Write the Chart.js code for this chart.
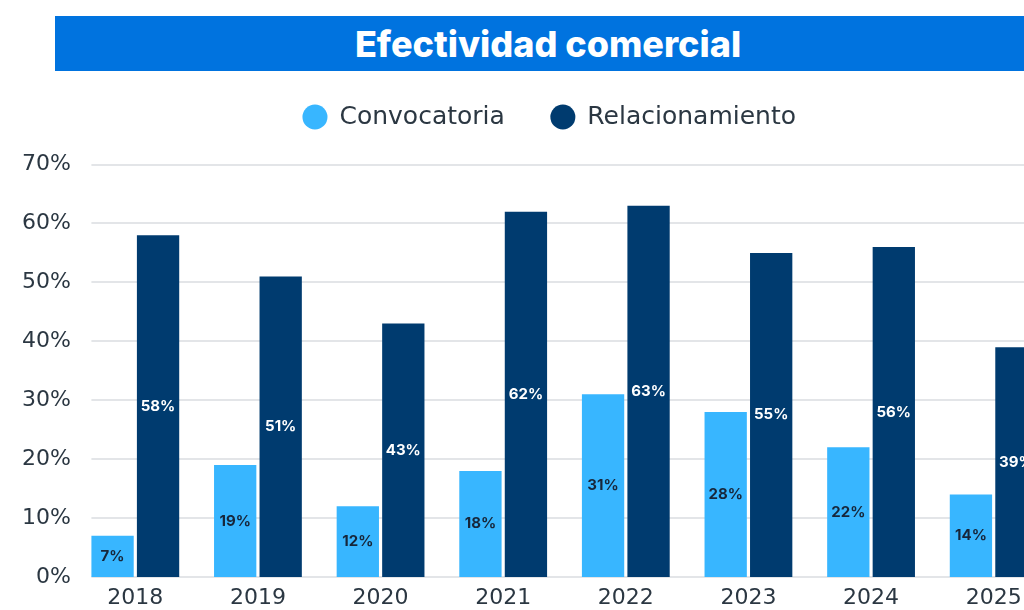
<!DOCTYPE html>
<html>
<head>
<meta charset="utf-8">
<script src="https://cdn.jsdelivr.net/npm/chart.js@4.4.1/dist/chart.umd.min.js"></script>
<style>
  html, body { margin: 0; padding: 0; background: #fff; overflow: hidden; }
  #wrap { position: relative; width: 1130px; height: 620px; }
  #title {
    position: absolute; left: 55px; top: 16px; width: 986px; height: 55px;
    background: #0073df; color: #fff; text-align: center;
    font: 800 36px "Inter", sans-serif; line-height: 56px; z-index: 2;
  }
  #chartBox { position: absolute; left: 0; top: 0; width: 1130px; height: 620px; }
</style>
</head>
<body>
<div id="wrap">
  <div id="title">Efectividad comercial</div>
  <div id="chartBox"><canvas id="chart"></canvas></div>
</div>
<script>
const years = ["2018", "2019", "2020", "2021", "2022", "2023", "2024", "2025"];
const convocatoria = [7, 19, 12, 18, 31, 28, 22, 14];
const relacionamiento = [58, 51, 43, 62, 63, 55, 56, 39];
const yTicks = [0, 10, 20, 30, 40, 50, 60, 70];

const textColor = "#2b3742";
const font = "DejaVu Sans";

// extra room under the legend, and legend nudged right a bit
const legendTweaks = {
  id: "legendTweaks",
  beforeInit(chart) {
    const fit = chart.legend.fit;
    chart.legend.fit = function () {
      fit.call(this);
      this.height += 25;
    };
  },
  afterLayout(chart) {
    chart.legend.left += 22;
    chart.legend.right += 22;
  }
};

// value labels in the middle of every bar
const barLabels = {
  id: "barLabels",
  afterDatasetsDraw(chart) {
    const ctx = chart.ctx;
    ctx.save();
    ctx.font = "700 15px Inter, sans-serif";
    ctx.textAlign = "center";
    ctx.textBaseline = "middle";
    chart.data.datasets.forEach((ds, i) => {
      chart.getDatasetMeta(i).data.forEach((bar, j) => {
        ctx.fillStyle = i === 0 ? "#17263a" : "#ffffff";
        ctx.fillText(ds.data[j] + "%", bar.x, (bar.y + bar.base) / 2);
      });
    });
    ctx.restore();
  }
};

// horizontal grid lines starting at the first bar
const gridLines = {
  id: "gridLines",
  beforeDatasetsDraw(chart) {
    const ctx = chart.ctx;
    const y = chart.scales.y;
    const area = chart.chartArea;
    const first = chart.getDatasetMeta(0).data[0];
    const x0 = first.x - first.width / 2;
    ctx.save();
    ctx.strokeStyle = "#e3e5e8";
    ctx.lineWidth = 2;
    yTicks.forEach((t) => {
      const py = Math.round(y.getPixelForValue(t));
      ctx.beginPath();
      ctx.moveTo(x0, py);
      ctx.lineTo(area.right + 80, py);
      ctx.stroke();
    });
    ctx.restore();
  }
};

new Chart(document.getElementById("chart"), {
  type: "bar",
  data: {
    labels: years,
    datasets: [
      {
        label: "Convocatoria",
        data: convocatoria,
        backgroundColor: "#38b6ff",
        categoryPercentage: 0.742,
        barPercentage: 0.93
      },
      {
        label: "Relacionamiento",
        data: relacionamiento,
        backgroundColor: "#003b6f",
        categoryPercentage: 0.742,
        barPercentage: 0.93
      }
    ]
  },
  options: {
    responsive: true,
    maintainAspectRatio: false,
    animation: false,
    layout: { padding: { top: 58.5, right: 75, left: 0, bottom: 0.6 } },
    plugins: {
      legend: {
        position: "top",
        labels: {
          usePointStyle: true,
          pointStyle: "circle",
          boxWidth: 24,
          boxHeight: 17.7,
          padding: 46,
          color: textColor,
          font: { family: font, size: 25 }
        }
      },
      tooltip: { enabled: false }
    },
    scales: {
      x: {
        grid: { display: false, drawTicks: false },
        border: { display: false },
        ticks: {
          color: textColor,
          padding: 8,
          font: { family: font, size: 22 }
        }
      },
      y: {
        min: 0,
        max: 70,
        afterFit(scale) { scale.width = 74; },
        grid: { display: false, drawTicks: false },
        border: { display: false },
        ticks: {
          stepSize: 10,
          color: textColor,
          padding: 3,
          font: { family: font, size: 22 },
          callback: (v) => v + "%"
        }
      }
    }
  },
  plugins: [legendTweaks, gridLines, barLabels]
});
</script>
</body>
</html>
